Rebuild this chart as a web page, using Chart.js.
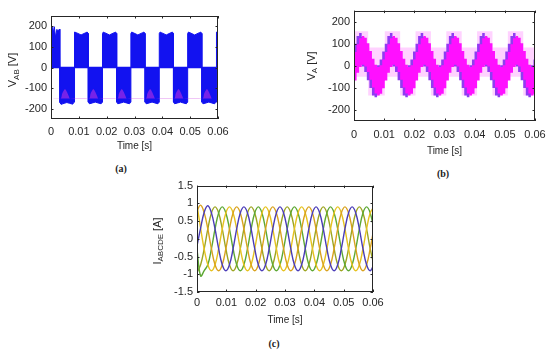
<!DOCTYPE html>
<html><head><meta charset="utf-8">
<script src="https://cdn.jsdelivr.net/npm/chart.js@4.4.1/dist/chart.umd.min.js"></script>
<style>
html,body{margin:0;padding:0;background:#fff}
body{width:550px;height:351px;position:relative;overflow:hidden}
canvas{position:absolute;display:block}
.cap{position:absolute;font:bold 10px "Liberation Serif","Times New Roman",serif;color:#222;transform:translate(-50%,-50%);white-space:nowrap}
</style></head><body>
<canvas id="chartA" width="240" height="159" style="left:0;top:0"></canvas>
<canvas id="chartB" width="267" height="161" style="left:290px;top:0"></canvas>
<canvas id="chartC" width="245" height="157" style="left:150px;top:175px"></canvas>
<div class="cap" style="left:121px;top:168px">(a)</div>
<div class="cap" style="left:443px;top:173px">(b)</div>
<div class="cap" style="left:274px;top:343px">(c)</div>
<script>
// ---------- ticks ----------
const timeTicks = [0, 0.01, 0.02, 0.03, 0.04, 0.05, 0.06];
const timeTickLabels = ['0', '0.01', '0.02', '0.03', '0.04', '0.05', '0.06'];
const voltTicks = [-200, -100, 0, 100, 200];
const voltTickLabels = ['-200', '-100', '0', '100', '200'];
const currTicks = [-1.5, -1, -0.5, 0, 0.5, 1, 1.5];
const currTickLabels = ['-1.5', '-1', '-0.5', '0', '0.5', '1', '1.5'];

// ---------- (a) line voltage V_AB envelope ----------
const vabTime = [0,0,0.0002,0.0006,0.0009,0.0012,0.0016,0.0021,0.0026,0.0030,0.0032,
 0.0032,0.0036,0.0047,0.0057,0.0067,0.0078,0.0083,
 0.0083,0.0086,0.0091,0.0108,0.0125,0.0130,0.0134,
 0.0134,0.0138,0.0149,0.0159,0.0169,0.0180,0.0185,
 0.0185,0.0188,0.0193,0.0210,0.0227,0.0232,0.0236,
 0.0236,0.0240,0.0251,0.0261,0.0271,0.0282,0.0287,
 0.0287,0.0290,0.0295,0.0312,0.0329,0.0334,0.0338,
 0.0338,0.0342,0.0353,0.0363,0.0373,0.0384,0.0389,
 0.0389,0.0392,0.0397,0.0414,0.0431,0.0436,0.0440,
 0.0440,0.0444,0.0455,0.0465,0.0475,0.0486,0.0491,
 0.0491,0.0494,0.0499,0.0516,0.0533,0.0538,0.0542,
 0.0542,0.0546,0.0557,0.0567,0.0577,0.0588,0.0593,
 0.0593,0.0596,0.0600];
const vabValue = [0,150,205,195,170,198,148,185,178,186,172,
 -170,-179,-174,-170,-174,-178,-168,
 165,172,169,158,169,172,165,
 -168,-176,-172,-168,-172,-176,-168,
 165,172,169,158,169,172,165,
 -168,-176,-172,-168,-172,-176,-168,
 165,172,169,158,169,172,165,
 -168,-176,-172,-168,-172,-176,-168,
 165,172,169,158,169,172,165,
 -168,-176,-172,-168,-172,-176,-168,
 165,172,169,158,169,172,165,
 -168,-176,-172,-168,-172,-176,-168,
 165,172,170];
// faint magenta patches inside the negative blocks
const vabPatchTime = [0,0.0035,0.0040,0.0046,0.0051,0.0057,0.0064,0.0068,
 0.0137,0.0142,0.0148,0.0153,0.0159,0.0166,0.0170,
 0.0239,0.0244,0.0250,0.0255,0.0261,0.0268,0.0272,
 0.0341,0.0346,0.0352,0.0357,0.0363,0.0370,0.0374,
 0.0443,0.0448,0.0454,0.0459,0.0465,0.0472,0.0476,
 0.0545,0.0550,0.0556,0.0561,0.0567,0.0574,0.0578,0.06];
const vabPatchValue = [-150,-150,-128,-112,-105,-118,-140,-150,
 -150,-128,-112,-105,-118,-140,-150,
 -150,-128,-112,-105,-118,-140,-150,
 -150,-128,-112,-105,-118,-140,-150,
 -150,-128,-112,-105,-118,-140,-150,
 -150,-128,-112,-105,-118,-140,-150,-150];
const vabPatchBase = [-150, -150];

// ---------- (b) phase voltage V_A (stepped bands) ----------
const vaTime = [0,0.00085,0.0017,0.00255,0.0034,0.00425,0.0051,0.00595,0.0068,0.00765,0.0085,0.00935,
 0.0102,0.01105,0.0119,0.01275,0.0136,0.01445,0.0153,0.01615,0.017,0.01785,0.0187,0.01955,
 0.0204,0.02125,0.0221,0.02295,0.0238,0.02465,0.0255,0.02635,0.0272,0.02805,0.0289,0.02975,
 0.0306,0.03145,0.0323,0.03315,0.034,0.03485,0.0357,0.03655,0.0374,0.03825,0.0391,0.03995,
 0.0408,0.04165,0.0425,0.04335,0.0442,0.04505,0.0459,0.04675,0.0476,0.04845,0.0493,0.05015,
 0.051,0.05185,0.0527,0.05355,0.0544,0.05525,0.0561,0.05695,0.0578,0.05865,0.0595,0.06035,0.0612];
const vaMagentaHigh = [63,98,125,135,127,102,67,32,5,-5,3,28,
 63,98,125,135,127,102,67,32,5,-5,3,28,
 63,98,125,135,127,102,67,32,5,-5,3,28,
 63,98,125,135,127,102,67,32,5,-5,3,28,
 63,98,125,135,127,102,67,32,5,-5,3,28,
 63,98,125,135,127,102,67,32,5,-5,3,28,63];
const vaMagentaLow = [-67,-32,-5,5,-3,-28,-63,-98,-125,-135,-127,-102,
 -67,-32,-5,5,-3,-28,-63,-98,-125,-135,-127,-102,
 -67,-32,-5,5,-3,-28,-63,-98,-125,-135,-127,-102,
 -67,-32,-5,5,-3,-28,-63,-98,-125,-135,-127,-102,
 -67,-32,-5,5,-3,-28,-63,-98,-125,-135,-127,-102,
 -67,-32,-5,5,-3,-28,-63,-98,-125,-135,-127,-102,-67];
const vaPurpleHigh = [100,135,148,130,102,67,32,5,-5,3,28,65,
 100,135,148,130,102,67,32,5,-5,3,28,65,
 100,135,148,130,102,67,32,5,-5,3,28,65,
 100,135,148,130,102,67,32,5,-5,3,28,65,
 100,135,148,130,102,67,32,5,-5,3,28,65,
 100,135,148,130,102,67,32,5,-5,3,28,65,100];
const vaPurpleLow = [-32,-5,5,-3,-28,-65,-100,-135,-142,-130,-102,-67,
 -32,-5,5,-3,-28,-65,-100,-135,-142,-130,-102,-67,
 -32,-5,5,-3,-28,-65,-100,-135,-142,-130,-102,-67,
 -32,-5,5,-3,-28,-65,-100,-135,-142,-130,-102,-67,
 -32,-5,5,-3,-28,-65,-100,-135,-142,-130,-102,-67,
 -32,-5,5,-3,-28,-65,-100,-135,-142,-130,-102,-67,-32];
const vaPaleTime = [0,0.0047,0.0102,0.0153,0.0204,0.0255,0.0306,0.0357,0.0408,0.0459,0.051,0.0561,0.0612];
const vaPaleHigh = [157,83,157,83,157,83,157,83,157,83,157,83,83];
const vaPaleLow = [-50,-135,-50,-135,-50,-135,-50,-135,-50,-135,-50,-135,-135];

// ---------- (c) five phase currents ----------
const iTime = [0,0.00123,0.00246,0.00369,0.00492,0.00615,0.00738,0.00861,0.00984,0.01107,
 0.0123,0.01353,0.01476,0.01599,0.01722,0.01845,0.01968,0.02091,0.02214,0.02337,
 0.0246,0.02583,0.02706,0.02829,0.02952,0.03075,0.03198,0.03321,0.03444,0.03567,
 0.0369,0.03813,0.03936,0.04059,0.04182,0.04305,0.04428,0.04551,0.04674,0.04797,
 0.0492,0.05043,0.05166,0.05289,0.05412,0.05535,0.05658,0.05781,0.05904,0.06027];
const iA = [-0.2,0.3,0.75,0.93,0.73,0.28,-0.28,-0.73,-0.9,-0.73,-0.28,0.28,0.73,0.9,0.73,0.28,-0.28,-0.73,-0.9,-0.73,
 -0.28,0.28,0.73,0.9,0.73,0.28,-0.28,-0.73,-0.9,-0.73,-0.28,0.28,0.73,0.9,0.73,0.28,-0.28,-0.73,-0.9,-0.73,
 -0.28,0.28,0.73,0.9,0.73,0.28,-0.28,-0.73,-0.9,-0.73];
const iB = [0.8,0.95,0.73,0.28,-0.28,-0.73,-0.9,-0.73,-0.28,0.28,0.73,0.9,0.73,0.28,-0.28,-0.73,-0.9,-0.73,-0.28,0.28,
 0.73,0.9,0.73,0.28,-0.28,-0.73,-0.9,-0.73,-0.28,0.28,0.73,0.9,0.73,0.28,-0.28,-0.73,-0.9,-0.73,-0.28,0.28,
 0.73,0.9,0.73,0.28,-0.28,-0.73,-0.9,-0.73,-0.28,0.28];
const iC = [0.95,0.3,-0.3,-0.73,-0.9,-0.73,-0.28,0.28,0.73,0.9,0.73,0.28,-0.28,-0.73,-0.9,-0.73,-0.28,0.28,0.73,0.9,
 0.73,0.28,-0.28,-0.73,-0.9,-0.73,-0.28,0.28,0.73,0.9,0.73,0.28,-0.28,-0.73,-0.9,-0.73,-0.28,0.28,0.73,0.9,
 0.73,0.28,-0.28,-0.73,-0.9,-0.73,-0.28,0.28,0.73,0.9];
const iD = [-0.3,-1.05,-0.9,-0.73,-0.28,0.28,0.73,0.9,0.73,0.28,-0.28,-0.73,-0.9,-0.73,-0.28,0.28,0.73,0.9,0.73,0.28,
 -0.28,-0.73,-0.9,-0.73,-0.28,0.28,0.73,0.9,0.73,0.28,-0.28,-0.73,-0.9,-0.73,-0.28,0.28,0.73,0.9,0.73,0.28,
 -0.28,-0.73,-0.9,-0.73,-0.28,0.28,0.73,0.9,0.73,0.28];
const iE = [-0.95,-0.73,-0.28,0.28,0.73,0.9,0.73,0.28,-0.28,-0.73,-0.9,-0.73,-0.28,0.28,0.73,0.9,0.73,0.28,-0.28,-0.73,
 -0.9,-0.73,-0.28,0.28,0.73,0.9,0.73,0.28,-0.28,-0.73,-0.9,-0.73,-0.28,0.28,0.73,0.9,0.73,0.28,-0.28,-0.73,
 -0.9,-0.73,-0.28,0.28,0.73,0.9,0.73,0.28,-0.28,-0.73];

// ---------- helpers ----------
const pts = (xs, ys) => xs.map((x, i) => ({x: x, y: ys[i]}));
const FONT = '"Liberation Sans", Arial, sans-serif';
const INK = '#262626';

const frameAndTitle = {
  id: 'frameAndTitle',
  afterDatasetsDraw(chart, args, o) {
    const {ctx, chartArea: a, scales} = chart;
    ctx.save();
    ctx.strokeStyle = INK; ctx.lineWidth = 1;
    const L = 2.5;
    ctx.beginPath();
    scales.x.ticks.forEach(t => {
      const p = Math.round(scales.x.getPixelForValue(t.value)) + 0.5;
      ctx.moveTo(p, a.bottom); ctx.lineTo(p, a.bottom - L);
      ctx.moveTo(p, a.top); ctx.lineTo(p, a.top + L);
    });
    scales.y.ticks.forEach(t => {
      const p = Math.round(scales.y.getPixelForValue(t.value)) + 0.5;
      ctx.moveTo(a.left, p); ctx.lineTo(a.left + L, p);
      ctx.moveTo(a.right, p); ctx.lineTo(a.right - L, p);
    });
    ctx.stroke();
    ctx.strokeRect(Math.round(a.left) + 0.5, Math.round(a.top) + 0.5, Math.round(a.width) - 1, Math.round(a.height) - 1);
    // y title with subscript
    ctx.translate(o.x, o.y); ctx.rotate(-Math.PI / 2);
    ctx.fillStyle = INK; ctx.textBaseline = 'middle'; ctx.textAlign = 'left';
    const fm = '11px ' + FONT, fs = '8px ' + FONT;
    ctx.font = fm; const w1 = ctx.measureText(o.main).width, w3 = ctx.measureText(o.rest).width;
    ctx.font = fs; const w2 = ctx.measureText(o.sub).width;
    const x0 = -(w1 + w2 + w3) / 2;
    ctx.font = fm; ctx.fillText(o.main, x0, 0);
    ctx.font = fs; ctx.fillText(o.sub, x0 + w1, 3.5);
    ctx.font = fm; ctx.fillText(o.rest, x0 + w1 + w2, 0);
    ctx.restore();
  }
};
Chart.register(frameAndTitle);

function makeOptions(o) {
  return {
    responsive: false, animation: false, events: [],
    layout: {padding: {top: o.pt, right: o.pr, left: 0, bottom: 0}},
    plugins: {legend: {display: false}, tooltip: {enabled: false}, frameAndTitle: o.ytitle},
    elements: {point: {radius: 0}},
    scales: {
      x: {type: 'linear', min: 0, max: 0.06,
        afterBuildTicks: s => { s.ticks = timeTicks.map(v => ({value: v})); },
        afterFit: s => { s.height = o.xh; },
        grid: {display: false, drawTicks: false}, border: {display: false},
        ticks: {autoSkip: false, maxRotation: 0, padding: o.xpad, color: INK, font: {family: FONT, size: 11},
          callback: (v, i) => timeTickLabels[i]},
        title: {display: true, text: 'Time [s]', color: INK, font: {family: FONT, size: 10},
          padding: {top: 0, bottom: o.tpad}}},
      y: {type: 'linear', min: o.ymin, max: o.ymax,
        afterBuildTicks: s => { s.ticks = o.yticks.map(v => ({value: v})); },
        afterFit: s => { s.width = o.yw; },
        grid: {display: false, drawTicks: false}, border: {display: false},
        ticks: {autoSkip: false, padding: 4, color: INK, font: {family: FONT, size: 11},
          callback: (v, i) => o.ylabels[i]}}
    }
  };
}

// (a)
new Chart(document.getElementById('chartA'), {
  type: 'line',
  data: {datasets: [
    {data: pts([0, 0.06], vabPatchBase), borderWidth: 0, fill: false, order: 0},
    {data: pts(vabPatchTime, vabPatchValue), borderWidth: 0, fill: '-1', tension: 0.3, backgroundColor: 'rgba(200,50,225,0.55)', order: 0},
    {data: pts(vabTime, vabValue), borderColor: '#1212F0', backgroundColor: '#1212F0', borderWidth: 1, fill: 'origin', tension: 0, order: 2},
    {data: pts([0, 0.06], [0, 0]), borderColor: '#1212F0', borderWidth: 1.3, fill: false, order: 1}
  ]},
  options: makeOptions({pt: 16, pr: 22, yw: 51, xh: 40, xpad: 6, tpad: 6.5, ymin: -250, ymax: 250,
    yticks: voltTicks, ylabels: voltTickLabels, ytitle: {x: 13, y: 70, main: 'V', sub: 'AB', rest: ' [V]'}})
});

// (b)
new Chart(document.getElementById('chartB'), {
  type: 'line',
  data: {datasets: [
    {data: pts(vaPaleTime, vaPaleLow), borderWidth: 0, stepped: true, fill: false, order: 3},
    {data: pts(vaPaleTime, vaPaleHigh), borderWidth: 0, stepped: true, fill: '-1', backgroundColor: '#FFD2FF', order: 3},
    {data: pts(vaTime, vaPurpleLow), borderWidth: 0, stepped: true, fill: false, order: 2},
    {data: pts(vaTime, vaPurpleHigh), borderWidth: 0, stepped: true, fill: '-1', backgroundColor: '#8E3CF2', order: 2},
    {data: pts(vaTime, vaMagentaLow), borderWidth: 0, stepped: true, fill: false, order: 1},
    {data: pts(vaTime, vaMagentaHigh), borderWidth: 0, stepped: true, fill: '-1', backgroundColor: '#FF10FF', order: 1}
  ]},
  options: makeOptions({pt: 10, pr: 22, yw: 64, xh: 40, xpad: 7.5, tpad: 4, ymin: -250, ymax: 250,
    yticks: voltTicks, ylabels: voltTickLabels, ytitle: {x: 21.7, y: 66, main: 'V', sub: 'A', rest: ' [V]'}})
});

// (c)
const curColors = ['#4A3CB8', '#D9A21E', '#E6C21F', '#5DA834', '#9DA522'];
const curSeries = [iA, iB, iC, iD, iE];
new Chart(document.getElementById('chartC'), {
  type: 'line',
  data: {datasets: curSeries.map((s, k) => ({data: pts(iTime, s), borderColor: curColors[k], borderWidth: 1.4, fill: false, tension: 0.4}))},
  options: makeOptions({pt: 10, pr: 22, yw: 47, xh: 40, xpad: 4.7, tpad: 5.7, ymin: -1.5, ymax: 1.5,
    yticks: currTicks, ylabels: currTickLabels, ytitle: {x: 7.5, y: 66, main: 'I', sub: 'ABCDE', rest: ' [A]'}})
});
</script>
</body></html>
